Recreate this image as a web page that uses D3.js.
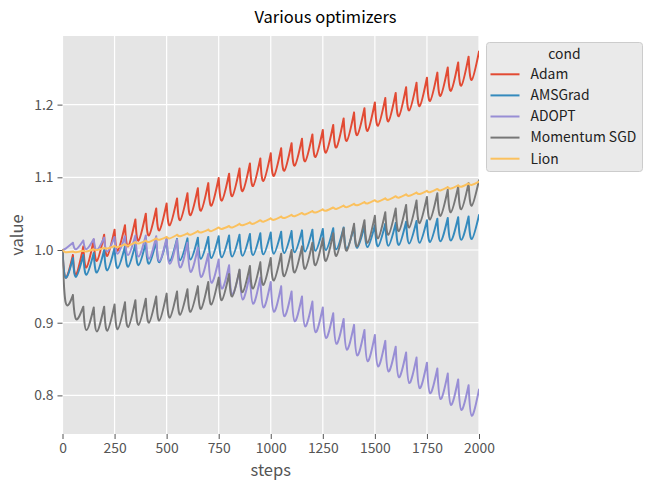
<!DOCTYPE html>
<html><head><meta charset="utf-8">
<script src="https://cdn.jsdelivr.net/npm/d3@7"></script>
<style>
html,body{margin:0;padding:0;background:#fff;}
svg{display:block;font-family:"Noto Sans CJK JP","Noto Sans",sans-serif;}
</style></head>
<body>
<svg id="chart" width="651" height="491"></svg>
<script>
// ---------- data ----------
const title = "Various optimizers";
const xLabel = "steps";
const yLabel = "value";
const legendTitle = "cond";
const categories = ["Adam", "AMSGrad", "ADOPT", "Momentum SGD", "Lion"];
const colors = ["#E24A33", "#348ABD", "#988ED5", "#777777", "#FBC15E"];
const xTicks = [0, 250, 500, 750, 1000, 1250, 1500, 1750, 2000];
const yTicks = [0.8, 0.9, 1.0, 1.1, 1.2];

const steps = [0,
 15,50, 65,100, 115,150, 165,200, 215,250, 265,300, 315,350, 365,400, 415,450, 465,500,
 515,550, 565,600, 615,650, 665,700, 715,750, 765,800, 815,850, 865,900, 915,950, 965,1000,
 1015,1050, 1065,1100, 1115,1150, 1165,1200, 1215,1250, 1265,1300, 1315,1350, 1365,1400, 1415,1450, 1465,1500,
 1515,1550, 1565,1600, 1615,1650, 1665,1700, 1715,1750, 1765,1800, 1815,1850, 1865,1900, 1915,1950, 1965,2000];

const adam = [1.000,
 0.962,0.993, 0.966,1.005, 0.976,1.014, 0.985,1.021, 0.992,1.028, 0.999,1.034, 1.005,1.042, 1.013,1.050, 1.020,1.057, 1.027,1.064,
 1.034,1.071, 1.041,1.078, 1.048,1.085, 1.054,1.092, 1.061,1.099, 1.068,1.105, 1.074,1.112, 1.081,1.119, 1.088,1.126, 1.095,1.133,
 1.102,1.140, 1.109,1.147, 1.116,1.153, 1.122,1.159, 1.128,1.165, 1.134,1.172, 1.141,1.181, 1.150,1.189, 1.158,1.195, 1.164,1.203,
 1.171,1.209, 1.177,1.216, 1.184,1.224, 1.192,1.230, 1.198,1.237, 1.205,1.244, 1.212,1.251, 1.219,1.258, 1.226,1.266, 1.234,1.273];

const amsgrad = [1.000,
 0.962,0.989, 0.963,0.993, 0.966,0.996, 0.969,1.000, 0.972,1.003, 0.975,1.005, 0.977,1.008, 0.979,1.010, 0.981,1.012, 0.983,1.014,
 0.985,1.015, 0.986,1.016, 0.987,1.017, 0.988,1.018, 0.989,1.019, 0.990,1.020, 0.991,1.021, 0.992,1.022, 0.993,1.023, 0.994,1.024,
 0.995,1.025, 0.996,1.026, 0.997,1.027, 0.998,1.028, 0.999,1.029, 1.000,1.030, 1.001,1.031, 1.002,1.032, 1.003,1.033, 1.004,1.034,
 1.005,1.036, 1.006,1.037, 1.007,1.039, 1.009,1.040, 1.010,1.041, 1.011,1.043, 1.012,1.044, 1.013,1.045, 1.014,1.046, 1.015,1.048];

const adopt = [1.000,
 1.002,1.010, 1.001,1.013, 1.001,1.015, 1.000,1.017, 0.998,1.018, 0.995,1.019, 0.993,1.020, 0.991,1.020, 0.988,1.019, 0.985,1.017,
 0.981,1.014, 0.976,1.010, 0.970,1.003, 0.963,0.995, 0.955,0.987, 0.947,0.979, 0.939,0.972, 0.932,0.967, 0.926,0.962, 0.921,0.956,
 0.915,0.950, 0.909,0.943, 0.902,0.936, 0.895,0.929, 0.887,0.921, 0.879,0.913, 0.871,0.905, 0.863,0.897, 0.855,0.890, 0.847,0.883,
 0.840,0.875, 0.833,0.867, 0.825,0.859, 0.817,0.852, 0.810,0.845, 0.803,0.837, 0.795,0.830, 0.787,0.822, 0.780,0.814, 0.772,0.808];

const momentumSgd = [1.000,
 0.928,0.938, 0.905,0.922, 0.890,0.921, 0.888,0.922, 0.889,0.925, 0.891,0.928, 0.894,0.931, 0.897,0.933, 0.900,0.936, 0.903,0.940,
 0.907,0.943, 0.911,0.946, 0.915,0.950, 0.919,0.956, 0.925,0.962, 0.931,0.967, 0.936,0.973, 0.942,0.978, 0.947,0.983, 0.952,0.989,
 0.958,0.995, 0.964,1.000, 0.969,1.005, 0.974,1.010, 0.979,1.016, 0.985,1.023, 0.992,1.030, 0.999,1.036, 1.005,1.041, 1.010,1.047,
 1.016,1.052, 1.021,1.057, 1.026,1.062, 1.031,1.068, 1.037,1.073, 1.042,1.078, 1.047,1.083, 1.052,1.087, 1.056,1.092, 1.061,1.096];

const lion = [1.000,
 0.997,0.998, 0.997,0.999, 0.998,1.001, 1.000,1.003, 1.002,1.0055, 1.004,1.008, 1.006,1.011, 1.009,1.013, 1.011,1.016, 1.014,1.018,
 1.016,1.021, 1.019,1.023, 1.021,1.026, 1.024,1.028, 1.026,1.031, 1.029,1.033, 1.031,1.036, 1.034,1.038, 1.036,1.041, 1.039,1.0435,
 1.0415,1.046, 1.044,1.0485, 1.0465,1.051, 1.049,1.0535, 1.0515,1.056, 1.054,1.0585, 1.0565,1.061, 1.059,1.0635, 1.0615,1.066, 1.064,1.0685,
 1.0665,1.071, 1.069,1.074, 1.072,1.0765, 1.0745,1.079, 1.077,1.0815, 1.0795,1.084, 1.082,1.0865, 1.0845,1.089, 1.087,1.0915, 1.0895,1.094];

const seriesValues = [adam, amsgrad, adopt, momentumSgd, lion];

// ---------- layout ----------
const svg = d3.select("#chart");
const W = 651, H = 491;
const plot = {left: 62.5, right: 479, top: 36, bottom: 434};

const x = d3.scaleLinear().domain([0, 2000]).range([plot.left, plot.right]);
const y = d3.scaleLinear().domain([0.7469, 1.2944]).range([plot.bottom, plot.top]);

svg.append("rect").attr("width", W).attr("height", H).attr("fill", "#fff");
svg.append("rect")
  .attr("x", plot.left).attr("y", plot.top)
  .attr("width", plot.right - plot.left).attr("height", plot.bottom - plot.top)
  .attr("fill", "#E5E5E5");

// grid
const grid = svg.append("g");
grid.selectAll(".gx").data(xTicks).join("line")
  .attr("x1", d => x(d)).attr("x2", d => x(d))
  .attr("y1", plot.top).attr("y2", plot.bottom)
  .attr("stroke", "#fff").attr("stroke-width", 1.2);
grid.selectAll(".gy").data(yTicks).join("line")
  .attr("x1", plot.left).attr("x2", plot.right)
  .attr("y1", d => y(d)).attr("y2", d => y(d))
  .attr("stroke", "#fff").attr("stroke-width", 1.2);

// axes
const xAxis = svg.append("g").attr("transform", `translate(0,${plot.bottom})`)
  .call(d3.axisBottom(x).tickValues(xTicks).tickFormat(d3.format("d")).tickSize(5).tickPadding(4));
const yAxis = svg.append("g").attr("transform", `translate(${plot.left},0)`)
  .call(d3.axisLeft(y).tickValues(yTicks).tickFormat(d3.format(".1f")).tickSize(5).tickPadding(4));
[xAxis, yAxis].forEach(a => {
  a.select(".domain").remove();
  a.selectAll(".tick line").attr("stroke", "#555555").attr("stroke-width", 1);
  a.selectAll(".tick text").attr("fill", "#555555")
    .style("font-size", "13.9px").style("font-family", '"Noto Sans CJK JP","Noto Sans",sans-serif');
});

// lines: each cycle (peak -> trough -> next peak) is drawn with a natural spline,
// giving rounded troughs and sharp peaks
svg.append("clipPath").attr("id", "clip").append("rect")
  .attr("x", plot.left).attr("y", plot.top)
  .attr("width", plot.right - plot.left).attr("height", plot.bottom - plot.top);

const segLine = d3.line()
  .x(d => x(d[0]))
  .y(d => y(d[1]))
  .curve(d3.curveNatural);

function seriesPath(vals) {
  let d = "";
  for (let i = 0; i + 2 < vals.length; i += 2) {
    d += segLine([[steps[i], vals[i]], [steps[i + 1], vals[i + 1]], [steps[i + 2], vals[i + 2]]]);
  }
  return d;
}

const linesG = svg.append("g").attr("clip-path", "url(#clip)");
seriesValues.forEach((vals, si) => {
  linesG.append("path")
    .attr("d", seriesPath(vals))
    .attr("fill", "none")
    .attr("stroke", colors[si])
    .attr("stroke-width", 2)
    .attr("stroke-linejoin", "round")
    .attr("stroke-linecap", "round");
});

// title & labels
svg.append("text").attr("x", W / 2).attr("y", 23)
  .attr("text-anchor", "middle").attr("fill", "#000")
  .style("font-size", "16.5px").text(title);
svg.append("text").attr("x", (plot.left + plot.right) / 2).attr("y", 476)
  .attr("text-anchor", "middle").attr("fill", "#555555")
  .style("font-size", "16.5px").text(xLabel);
svg.append("text")
  .attr("transform", `translate(23,${(plot.top + plot.bottom) / 2}) rotate(-90)`)
  .attr("text-anchor", "middle").attr("fill", "#555555")
  .style("font-size", "16.5px").text(yLabel);

// legend
const lg = svg.append("g").attr("transform", "translate(486.5,42.5)");
lg.append("rect").attr("width", 156).attr("height", 129).attr("rx", 3)
  .attr("fill", "#EAEAEA").attr("stroke", "#CCCCCC").attr("stroke-width", 1);
lg.append("text").attr("x", 78).attr("y", 11.5).attr("dy", "0.35em").attr("text-anchor", "middle")
  .attr("fill", "#222")
  .style("font-size", "13.9px").text(legendTitle);
categories.forEach((c, i) => {
  const cy = 31.8 + i * 21.1;
  lg.append("line").attr("x1", 4).attr("x2", 33).attr("y1", cy).attr("y2", cy)
    .attr("stroke", colors[i]).attr("stroke-width", 2);
  lg.append("text").attr("x", 44).attr("y", cy).attr("dy", "0.35em")
    .attr("fill", "#222").style("font-size", "13.9px").text(c);
});
</script>
</body></html>
